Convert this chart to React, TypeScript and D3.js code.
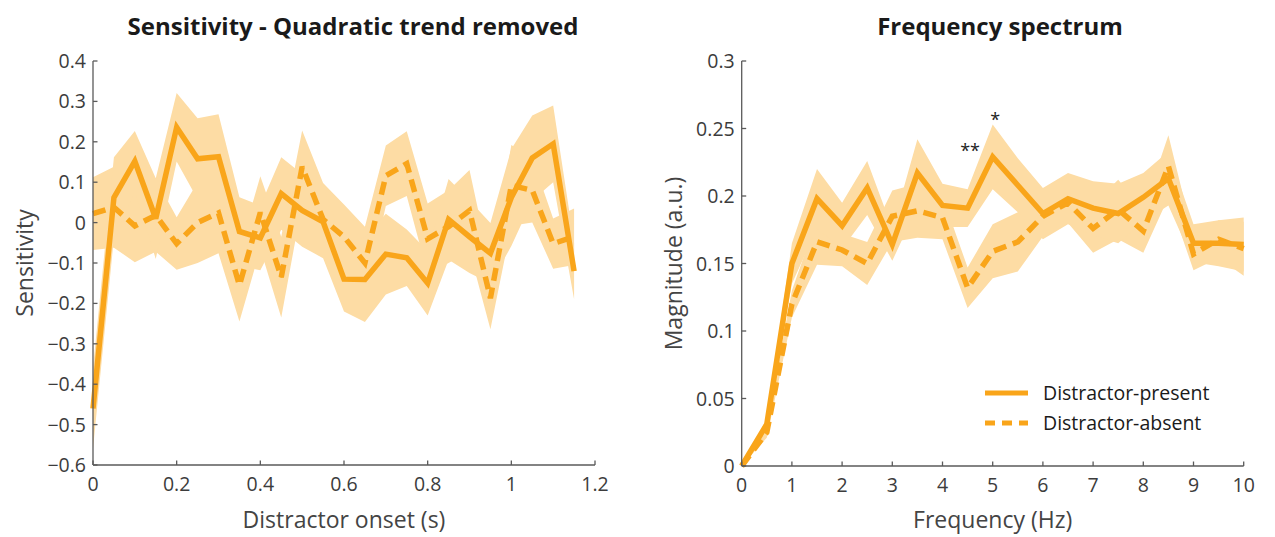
import React from "react";
import * as d3 from "d3";

// Sensitivity time course (quadratic trend removed), sampled every 50 ms
const onsets = [0, 0.05, 0.1, 0.15, 0.2, 0.25, 0.3, 0.35, 0.4, 0.45, 0.5, 0.55, 0.6, 0.65, 0.7, 0.75, 0.8, 0.85, 0.9, 0.95, 1.0, 1.05, 1.1, 1.15];
const sensPresent = [-0.46, 0.062, 0.152, 0.01, 0.236, 0.158, 0.163, -0.022, -0.038, 0.072, 0.03, 0.002, -0.14, -0.141, -0.078, -0.087, -0.15, 0.008, -0.035, -0.076, 0.062, 0.16, 0.195, -0.12];
const sensPresentErr = [0.1, 0.1, 0.075, 0.1, 0.085, 0.1, 0.105, 0.085, 0.08, 0.09, 0.09, 0.09, 0.08, 0.105, 0.1, 0.07, 0.08, 0.1, 0.09, 0.075, 0.12, 0.105, 0.095, 0.07];
const sensAbsent = [0.022, 0.038, -0.008, 0.018, -0.052, 0.0, 0.024, -0.155, 0.025, -0.135, 0.138, 0.008, -0.035, -0.1, 0.116, 0.146, -0.04, -0.01, 0.03, -0.187, 0.092, 0.08, -0.052, -0.035];
const sensAbsentErr = [0.09, 0.1, 0.09, 0.09, 0.065, 0.1, 0.1, 0.09, 0.09, 0.1, 0.09, 0.09, 0.08, 0.09, 0.075, 0.08, 0.087, 0.09, 0.1, 0.077, 0.1, 0.08, 0.062, 0.07];
const sensXTicks = [0, 0.2, 0.4, 0.6, 0.8, 1.0, 1.2];
const sensYTicks = [0.4, 0.3, 0.2, 0.1, 0, -0.1, -0.2, -0.3, -0.4, -0.5, -0.6];

// Frequency spectrum of the sensitivity time courses
const freqs = [0, 0.5, 1, 1.5, 2, 2.5, 3, 3.5, 4, 4.5, 5, 5.5, 6, 6.5, 7, 7.5, 8, 8.5, 9, 9.5, 10];
const magPresent = [0, 0.031, 0.15, 0.198, 0.178, 0.206, 0.164, 0.217, 0.193, 0.191, 0.229, 0.208, 0.187, 0.198, 0.191, 0.187, 0.199, 0.213, 0.165, 0.165, 0.164];
const magPresentErr = [0, 0.004, 0.015, 0.022, 0.017, 0.02, 0.012, 0.025, 0.016, 0.014, 0.024, 0.02, 0.019, 0.019, 0.02, 0.022, 0.018, 0.02, 0.014, 0.017, 0.02];
const magAbsent = [0, 0.025, 0.12, 0.166, 0.16, 0.15, 0.185, 0.189, 0.184, 0.132, 0.159, 0.166, 0.185, 0.195, 0.176, 0.19, 0.174, 0.222, 0.157, 0.168, 0.161];
const magAbsentErr = [0, 0.004, 0.01, 0.017, 0.012, 0.016, 0.019, 0.02, 0.016, 0.015, 0.02, 0.022, 0.015, 0.015, 0.018, 0.022, 0.016, 0.023, 0.012, 0.014, 0.02];
const freqXTicks = [0, 1, 2, 3, 4, 5, 6, 7, 8, 9, 10];
const freqYTicks = [0, 0.05, 0.1, 0.15, 0.2, 0.25, 0.3];

// Significance markers on the spectrum
const sigMarks = [
  { freq: 4.55, value: 0.237, label: "**" },
  { freq: 5.05, value: 0.26, label: "*" },
];

const legendItems = [
  { label: "Distractor-present", dashed: false },
  { label: "Distractor-absent", dashed: true },
];

const LINE = "#F9A51A";
const BAND = "#FDDCA4";
const AXIS = "#5a5a5a";
const TICK_TEXT = "#3c3c3c";
const FONT = "'Open Sans', 'Noto Sans', sans-serif";
const DASH = "13,7";

type PanelProps = {
  x0: number;
  x1: number;
  y0: number;
  y1: number;
  xDomain: [number, number];
  yDomain: [number, number];
  xs: number[];
  series: { values: number[]; err: number[]; dashed: boolean }[];
  xTicks: number[];
  yTicks: number[];
  fmtX: (v: number) => string;
  fmtY: (v: number) => string;
  title: string;
  titleX: number;
  xLabel: string;
  yLabel: string;
  yLabelX: number;
  children?: (x: d3.ScaleLinear<number, number>, y: d3.ScaleLinear<number, number>) => React.ReactNode;
};

function Panel(p: PanelProps) {
  const x = d3.scaleLinear().domain(p.xDomain).range([p.x0, p.x1]);
  const y = d3.scaleLinear().domain(p.yDomain).range([p.y1, p.y0]);
  const area = d3.area<number>().x((_, i) => x(p.xs[i]));
  const line = d3
    .line<number>()
    .x((_, i) => x(p.xs[i]))
    .y((v) => y(v));
  const cx = (p.x0 + p.x1) / 2;
  const cy = (p.y0 + p.y1) / 2;
  return (
    <g>
      {p.series.map((s, k) => (
        <path
          key={"band" + k}
          d={
            area
              .y0((_, i) => y(s.values[i] - s.err[i]))
              .y1((_, i) => y(s.values[i] + s.err[i]))(s.values) || ""
          }
          fill={BAND}
          stroke="none"
        />
      ))}
      {p.series.map((s, k) => (
        <path
          key={"line" + k}
          d={line(s.values) || ""}
          fill="none"
          stroke={LINE}
          strokeWidth={5.5}
          strokeDasharray={s.dashed ? DASH : undefined}
          strokeLinejoin="miter"
          strokeMiterlimit={3}
        />
      ))}
      {/* axes */}
      <line x1={p.x0} x2={p.x0} y1={p.y0} y2={p.y1} stroke={AXIS} strokeWidth={1.3} />
      <line x1={p.x0} x2={p.x1} y1={p.y1} y2={p.y1} stroke={AXIS} strokeWidth={1.3} />
      {p.yTicks.map((t) => (
        <g key={"yt" + t}>
          <line x1={p.x0} x2={p.x0 + 4.5} y1={y(t)} y2={y(t)} stroke={AXIS} strokeWidth={1.3} />
          <text
            x={p.x0 - 7}
            y={y(t)}
            dy="0.36em"
            textAnchor="end"
            fontSize={19.5}
            fill={TICK_TEXT}
            fontFamily={FONT}
          >
            {p.fmtY(t)}
          </text>
        </g>
      ))}
      {p.xTicks.map((t) => (
        <g key={"xt" + t}>
          <line x1={x(t)} x2={x(t)} y1={p.y1} y2={p.y1 - 4.5} stroke={AXIS} strokeWidth={1.3} />
          <text
            x={x(t)}
            y={p.y1 + 26}
            textAnchor="middle"
            fontSize={19.5}
            fill={TICK_TEXT}
            fontFamily={FONT}
          >
            {p.fmtX(t)}
          </text>
        </g>
      ))}
      <text x={cx} y={528} textAnchor="middle" fontSize={23} fill="#444" fontFamily={FONT}>
        {p.xLabel}
      </text>
      <text
        transform={`translate(${p.yLabelX},${cy}) rotate(-90)`}
        textAnchor="middle"
        fontSize={23}
        fill="#444"
        fontFamily={FONT}
      >
        {p.yLabel}
      </text>
      <text
        x={p.titleX}
        y={35}
        textAnchor="middle"
        fontSize={24}
        fontWeight="bold"
        fill="#1a1a1a"
        fontFamily={FONT}
      >
        {p.title}
      </text>
      {p.children ? p.children(x, y) : null}
    </g>
  );
}

const fmtTrim = (v: number) => {
  const s = d3.format(".2f")(v);
  return s.replace(/\.?0+$/, "").replace(/^-?0$/, "0") || "0";
};

export default function App() {
  return (
    <svg width={1275} height={537} style={{ display: "block", position: "absolute", left: 0, top: 0 }}>
      <rect width={1275} height={537} fill="#fff" />
      <Panel
        x0={93}
        x1={595}
        y0={61}
        y1={465}
        xDomain={[0, 1.2]}
        yDomain={[-0.6, 0.4]}
        xs={onsets}
        series={[
          { values: sensAbsent, err: sensAbsentErr, dashed: true },
          { values: sensPresent, err: sensPresentErr, dashed: false },
        ]}
        xTicks={sensXTicks}
        yTicks={sensYTicks}
        fmtX={fmtTrim}
        fmtY={fmtTrim}
        title="Sensitivity - Quadratic trend removed"
        titleX={353}
        xLabel="Distractor onset (s)"
        yLabel="Sensitivity"
        yLabelX={33}
      />
      <Panel
        x0={741.7}
        x1={1243.7}
        y0={61}
        y1={466}
        xDomain={[0, 10]}
        yDomain={[0, 0.3]}
        xs={freqs}
        series={[
          { values: magAbsent, err: magAbsentErr, dashed: true },
          { values: magPresent, err: magPresentErr, dashed: false },
        ]}
        xTicks={freqXTicks}
        yTicks={freqYTicks}
        fmtX={fmtTrim}
        fmtY={fmtTrim}
        title="Frequency spectrum"
        titleX={1000}
        xLabel="Frequency (Hz)"
        yLabel="Magnitude (a.u.)"
        yLabelX={682}
      >
        {(x, y) => (
          <g>
            {sigMarks.map((m) => (
              <text
                key={m.label}
                x={x(m.freq)}
                y={y(m.value)}
                dy="0.6em"
                textAnchor="middle"
                fontSize={18}
                fill="#222"
                fontFamily={FONT}
              >
                {m.label}
              </text>
            ))}
            {legendItems.map((it, i) => (
              <g key={it.label} transform={`translate(985,${393 + i * 30})`}>
                <line
                  x1={0}
                  x2={43}
                  y1={0}
                  y2={0}
                  stroke={LINE}
                  strokeWidth={5}
                  strokeDasharray={it.dashed ? "10,7" : undefined}
                />
                <text x={58} y={0} dy="0.35em" fontSize={19.5} fill="#1a1a1a" fontFamily={FONT}>
                  {it.label}
                </text>
              </g>
            ))}
          </g>
        )}
      </Panel>
    </svg>
  );
}
